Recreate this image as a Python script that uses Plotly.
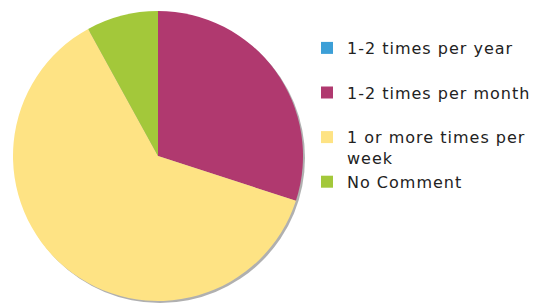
import plotly.graph_objects as go

labels = ["1-2 times per year", "1-2 times per month", "1 or more times per<br>week", "No Comment"]
pad_lines = [1, 1, 0, 0]
values = [0, 30, 62, 8]
colors = ["#3c9fd7", "#b0396f", "#fee384", "#a3c83a"]

W, H = 537, 306
cx, cy, r = 158, 156, 145

legend_text = [
    "<span style='letter-spacing:1px'>" + lab.replace("<br>", "</span><br><span style='letter-spacing:1px'>") + "</span>" + "<br> " * p
    for lab, p in zip(labels, pad_lines)
]

fig = go.Figure(go.Pie(
    labels=legend_text, values=values, sort=False, direction="clockwise", rotation=0,
    marker=dict(colors=colors, line=dict(width=0)),
    textinfo="none", hoverinfo="label+percent",
    domain=dict(x=[(cx - r) / W, (cx + r) / W], y=[1 - (cy + r) / H, 1 - (cy - r) / H]),
))

fig.add_shape(type="circle", xref="paper", yref="paper", layer="below",
              x0=(cx - r + 2) / W, x1=(cx + r + 2) / W,
              y0=1 - (cy + r + 2) / H, y1=1 - (cy - r + 2) / H,
              fillcolor="#b0b0b0", line=dict(width=0))

fig.update_layout(
    width=W, height=H, margin=dict(l=0, r=0, t=0, b=0),
    paper_bgcolor="white", plot_bgcolor="white",
    font=dict(family="DejaVu Sans", size=16, color="#222"),
    legend=dict(x=307 / W, y=1 - 31 / H, xanchor="left", yanchor="top",
                valign="top", font=dict(size=16), tracegroupgap=0, itemwidth=30),
)
fig.write_html("out.html", config={"displayModeBar": False},
               post_script="document.body.style.margin='0';")
